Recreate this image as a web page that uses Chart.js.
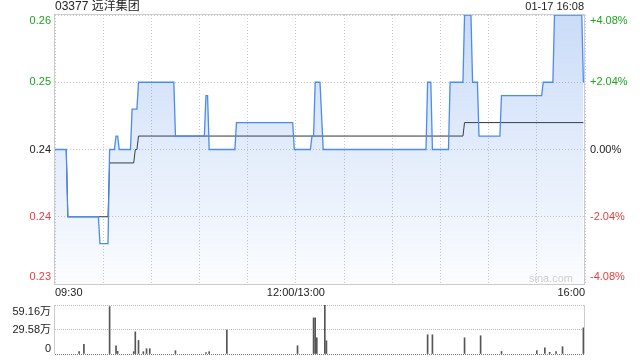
<!DOCTYPE html>
<html>
<head>
<meta charset="utf-8">
<script src="https://cdn.jsdelivr.net/npm/chart.js@4.4.0/dist/chart.umd.min.js"></script>
<style>
  html, body { margin: 0; padding: 0; background: #fff; }
  #wrap { position: relative; width: 640px; height: 360px; overflow: hidden; }
  #main { position: absolute; left: 0; top: 0; }
  #vol  { position: absolute; left: 0; top: 295px; }
</style>
</head>
<body>
<div id="wrap">
  <canvas id="main" width="640" height="300"></canvas>
  <canvas id="vol" width="640" height="65"></canvas>
</div>
<script>
const stockName = '03377 远洋集团';
const stamp = '01-17 16:08';
const watermark = 'sina.com';
const prevClose = 0.245;

// minutes from 09:30 (lunch break removed), 0..330
const timeLabels  = ['09:30', '12:00/13:00', '16:00'];
const timeLabelAt = [0, 150, 330];
const gridMinutes = [0, 30, 60, 90, 120, 150, 180, 210, 240, 270, 300, 330];

const priceTicks  = [0.255, 0.25, 0.245, 0.24, 0.235];
const priceLabels = ['0.26', '0.25', '0.24', '0.24', '0.23'];
const pctLabels   = ['+4.08%', '+2.04%', '0.00%', '-2.04%', '-4.08%'];

// price line, vertices where it changes
const priceMin = [0, 7, 8, 27, 28, 33, 34, 37, 38, 39, 40, 47, 48, 51, 52, 74, 75, 93, 94, 95, 96,
                  112, 113, 148, 149, 159, 160, 161, 162, 165, 167, 231, 232, 234, 235, 245, 246,
                  254, 255, 259, 260, 263, 264, 277, 278, 303, 304, 310, 311, 328, 329];
const priceVal = [0.245, 0.245, 0.24, 0.24, 0.238, 0.238, 0.245, 0.245, 0.246, 0.246, 0.245, 0.245, 0.248, 0.248, 0.25, 0.25, 0.246, 0.246, 0.249, 0.249, 0.245,
                  0.245, 0.247, 0.247, 0.245, 0.245, 0.246, 0.246, 0.25, 0.25, 0.245, 0.245, 0.25, 0.25, 0.245, 0.245, 0.25,
                  0.25, 0.255, 0.255, 0.25, 0.25, 0.246, 0.246, 0.249, 0.249, 0.25, 0.25, 0.255, 0.255, 0.25];

// average price line
const avgMin = [0, 7, 8, 33, 34, 49, 50, 51, 52, 254, 255, 329];
const avgVal = [0.245, 0.245, 0.24, 0.24, 0.244, 0.244, 0.245, 0.245, 0.246, 0.246, 0.247, 0.247];

// volume (万股), only the visible bars
const volMin = [15, 18, 34, 38, 39, 49, 50, 52, 55, 57, 59, 75, 94, 96, 107, 151, 161, 162, 163, 168, 169,
                232, 235, 255, 265, 278, 300, 305, 308, 312, 316, 329];
const volVal = [2.8, 11.6, 57.2, 10.0, 3.2, 2.8, 26.8, 16.4, 2.8, 6.4, 6.4, 4.0, 1.6, 2.8, 29.0, 10.0, 43.6, 43.6, 19.6, 59.16, 16.0,
                23.2, 23.2, 19.6, 22.0, 3.0, 4.0, 7.6, 2.0, 3.0, 8.8, 31.6];
const volTicks  = [59.16, 29.58, 0];
const volLabels = ['59.16万', '29.58万', '0'];

const FONT = '"Liberation Sans", Arial, "Noto Sans CJK SC", sans-serif';
const UP = '#1ea51e', DOWN = '#f03a3a', FLAT = '#222';

function tone(v) {
    if (Math.abs(v - prevClose) < 1e-9) return FLAT;
    return v > prevClose ? UP : DOWN;
}

const mainDeco = {
    id: 'mainDeco',
    afterDraw(chart) {
        const {ctx, chartArea: a, scales: {x, y}} = chart;
        ctx.save();
        ctx.strokeStyle = '#ccc';
        ctx.lineWidth = 1;
        ctx.strokeRect(a.left - 0.5, a.top - 0.5, a.right - a.left, a.bottom - a.top + 1);

        ctx.font = '12px ' + FONT;
        ctx.fillStyle = '#222';
        ctx.textBaseline = 'middle';
        ctx.textAlign = 'left';
        ctx.fillText(stockName, a.left, 7);
        ctx.font = '11px ' + FONT;
        ctx.textAlign = 'right';
        ctx.fillText(stamp, a.right - 1, 7);

        priceTicks.forEach((v, i) => {
            let py = y.getPixelForValue(v);
            py = Math.min(Math.max(py, a.top + 6), a.bottom - 7);
            ctx.fillStyle = tone(v);
            ctx.textAlign = 'right';
            ctx.fillText(priceLabels[i], a.left - 4, py);
            ctx.textAlign = 'left';
            ctx.fillText(pctLabels[i], a.right + 5, py);
        });

        ctx.fillStyle = '#222';
        timeLabels.forEach((t, i) => {
            const m = timeLabelAt[i];
            ctx.textAlign = m === 0 ? 'left' : (m === 330 ? 'right' : 'center');
            ctx.fillText(t, x.getPixelForValue(m), a.bottom + 9);
        });

        ctx.fillStyle = '#d0d0d0';
        ctx.textAlign = 'right';
        ctx.fillText(watermark, a.right - 12, a.bottom - 5);
        ctx.restore();
    }
};

new Chart(document.getElementById('main'), {
    type: 'line',
    data: {
        datasets: [{
            data: priceMin.map((m, i) => ({x: m, y: priceVal[i]})),
            borderColor: '#4a8cf0',
            borderWidth: 1.3,
            pointRadius: 0,
            fill: 'start',
            backgroundColor: c => {
                const a = c.chart.chartArea;
                if (!a) return 'rgba(60,125,230,0.15)';
                const g = c.chart.ctx.createLinearGradient(0, a.top, 0, a.bottom);
                g.addColorStop(0, 'rgba(60,125,230,0.27)');
                g.addColorStop(1, 'rgba(60,125,230,0.02)');
                return g;
            },
            order: 0
        }, {
            data: avgMin.map((m, i) => ({x: m, y: avgVal[i]})),
            borderColor: '#333',
            borderWidth: 1,
            pointRadius: 0,
            fill: false,
            order: 1
        }]
    },
    options: {
        responsive: false,
        animation: false,
        layout: {padding: {left: 0, right: 55, top: 15, bottom: 0}},
        plugins: {legend: {display: false}, tooltip: {enabled: false}},
        scales: {
            x: {
                type: 'linear', min: 0, max: 330,
                afterBuildTicks: s => { s.ticks = gridMinutes.map(v => ({value: v})); },
                afterFit: s => { s.height = 16; },
                ticks: {display: false},
                grid: {color: '#c8c8c8', drawTicks: false},
                border: {display: false, dash: [1, 2]}
            },
            y: {
                type: 'linear', min: 0.235, max: 0.255,
                afterBuildTicks: s => { s.ticks = priceTicks.map(v => ({value: v})); },
                afterFit: s => { s.width = 55; },
                ticks: {display: false},
                grid: {color: '#c8c8c8', drawTicks: false},
                border: {display: false, dash: [1, 2]}
            }
        }
    },
    plugins: [mainDeco]
});

const volDeco = {
    id: 'volDeco',
    afterDraw(chart) {
        const {ctx, chartArea: a, scales: {y}} = chart;
        ctx.save();
        ctx.strokeStyle = '#ccc';
        ctx.lineWidth = 1;
        ctx.beginPath();
        ctx.moveTo(a.left - 0.5, a.top); ctx.lineTo(a.left - 0.5, a.bottom);
        ctx.moveTo(a.right - 0.5, a.top); ctx.lineTo(a.right - 0.5, a.bottom);
        ctx.stroke();
        ctx.font = '11px ' + FONT;
        ctx.fillStyle = '#222';
        ctx.textAlign = 'right';
        ctx.textBaseline = 'middle';
        volTicks.forEach((v, i) => {
            let py = y.getPixelForValue(v);
            py = Math.min(Math.max(py, a.top + 7), a.bottom - 5);
            ctx.fillText(volLabels[i], a.left - 4, py);
        });
        ctx.restore();
    }
};

new Chart(document.getElementById('vol'), {
    type: 'bar',
    data: {
        datasets: [{
            data: volMin.map((m, i) => ({x: m, y: volVal[i]})),
            backgroundColor: '#555',
            barThickness: 1
        }]
    },
    options: {
        responsive: false,
        animation: false,
        layout: {padding: {left: 0, right: 55, top: 10, bottom: 6}},
        plugins: {legend: {display: false}, tooltip: {enabled: false}},
        scales: {
            x: {type: 'linear', min: 0, max: 330, offset: false, display: false},
            y: {
                min: 0, max: 59.16,
                afterBuildTicks: s => { s.ticks = volTicks.map(v => ({value: v})); },
                afterFit: s => { s.width = 55; },
                ticks: {display: false},
                grid: {color: c => c.tick && c.tick.value === 0 ? '#777' : '#b8b8b8', drawTicks: false},
                border: {display: false, dash: [1, 1]}
            }
        }
    },
    plugins: [volDeco]
});
</script>
</body>
</html>
